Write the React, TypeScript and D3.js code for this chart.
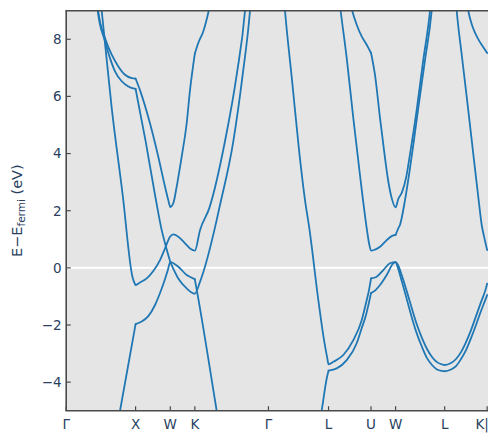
import React from "react";
import * as d3 from "d3";

type P = [number, number];

// high-symmetry path (distances in units of 2π/a)
const kLabels = ["Γ", "X", "W", "K", "Γ", "L", "U", "W", "L", "K|U"];
const kTicks = [0, 1, 1.5, 1.8536, 2.9142, 3.7802, 4.3926, 4.7462, 5.4533, 6.0657];
const kEnd = 6.4193;
const eTicks = [-4, -2, 0, 2, 4, 6, 8];
const eDomain: P = [-5, 9];

// bands: [k, E - E_fermi]
const bandA: P[] = [
  [0.552, -8.13], [0.775, -5.01], [1.0, -1.97], [1.088, -1.88], [1.183, -1.69], [1.28, -1.3],
  [1.352, -0.88], [1.424, -0.39], [1.462, -0.1], [1.5, 0.2], [1.615, 0.04], [1.736, -0.25],
  [1.831, -0.37], [1.8536, -0.4], [1.903, -1.07], [2.169, -5.01], [2.378, -8.13], [3.46, -8.13],
  [3.682, -4.98], [3.758, -3.82], [3.7802, -3.6], [3.898, -3.52], [4.042, -3.23], [4.186, -2.64],
  [4.254, -2.14], [4.32, -1.65], [4.363, -1.21], [4.3926, -0.88], [4.425, -0.84], [4.522, -0.6],
  [4.618, -0.25], [4.709, 0.15], [4.7462, 0.2], [4.781, -0.01], [4.839, -0.5], [4.911, -1.13],
  [4.983, -1.76], [5.055, -2.32], [5.127, -2.77], [5.199, -3.16], [5.271, -3.4], [5.343, -3.56],
  [5.415, -3.61], [5.4533, -3.62], [5.545, -3.56], [5.617, -3.44], [5.689, -3.19], [5.761, -2.88],
  [5.833, -2.46], [5.905, -2.0], [5.977, -1.51], [6.049, -1.06], [6.0657, -0.95],
];
const bandB: P[] = [
  [0.465, 10.07], [0.512, 8.99], [0.656, 5.59], [0.814, 2.55], [0.955, -0.32], [0.984, -0.53],
  [1.0, -0.6], [1.063, -0.51], [1.16, -0.37], [1.255, -0.11], [1.352, 0.27], [1.424, 0.68],
  [1.496, 1.09], [1.543, 1.17], [1.615, 1.09], [1.712, 0.86], [1.784, 0.68], [1.8536, 0.6],
  [1.928, 1.32], [2.062, 2.09], [2.288, 4.43], [2.457, 6.76], [2.576, 8.99], [2.605, 9.9],
];
const bandC: P[] = [
  [0.437, 9.55], [0.461, 8.99], [0.559, 8.04], [0.656, 7.46], [0.751, 7.05], [0.847, 6.76],
  [0.944, 6.64], [1.0, 6.62], [1.063, 6.22], [1.207, 5.06], [1.327, 3.89], [1.424, 2.84],
  [1.471, 2.37], [1.5, 2.13], [1.543, 2.26], [1.592, 2.84], [1.664, 3.89], [1.736, 5.06],
  [1.784, 6.22], [1.8536, 7.5], [1.903, 7.87], [1.976, 8.28], [2.053, 8.99], [2.072, 9.2],
];
const bandD: P[] = [
  [0.437, 9.55], [0.454, 9.0], [0.559, 7.93], [0.631, 7.34], [0.703, 6.88], [0.8, 6.53],
  [0.895, 6.35], [1.0, 6.26], [1.143, 4.45], [1.28, 2.55], [1.376, 1.32], [1.424, 0.86],
  [1.5, 0.2], [1.615, -0.37], [1.736, -0.72], [1.831, -0.89], [1.8536, -0.9], [1.928, -0.49],
  [2.168, 1.67], [2.206, 2.09], [2.408, 4.43], [2.543, 6.76], [2.648, 8.99], [2.677, 9.9],
];
const bandE: P[] = [
  [3.117, 10.07], [3.153, 8.99], [3.254, 6.57], [3.355, 4.12], [3.441, 2.37], [3.503, 1.39],
  [3.633, -1.13], [3.715, -2.53], [3.762, -3.16], [3.7802, -3.38], [3.849, -3.29], [3.993, -3.05],
  [4.137, -2.53], [4.258, -1.83], [4.32, -1.23], [4.363, -0.78], [4.3926, -0.37], [4.474, -0.31],
  [4.569, -0.08], [4.666, 0.16], [4.7462, 0.2], [4.781, 0.1], [4.839, -0.29], [4.911, -0.85],
  [4.983, -1.44], [5.055, -2.0], [5.127, -2.46], [5.199, -2.84], [5.271, -3.12], [5.343, -3.3],
  [5.415, -3.38], [5.4533, -3.4], [5.545, -3.33], [5.617, -3.19], [5.689, -2.95], [5.761, -2.6],
  [5.833, -2.18], [5.905, -1.69], [5.977, -1.2], [6.049, -0.71], [6.0657, -0.55],
];
const bandF: P[] = [
  [3.911, 9.9], [3.955, 8.99], [4.042, 7.34], [4.137, 5.24], [4.233, 3.25], [4.33, 1.39],
  [4.363, 0.87], [4.3926, 0.6], [4.449, 0.64], [4.522, 0.74], [4.618, 0.97], [4.69, 1.11],
  [4.7462, 1.15], [4.781, 1.36], [4.81, 1.51], [4.882, 2.37], [4.954, 3.49], [5.011, 4.47],
  [5.073, 5.59], [5.17, 7.27], [5.266, 8.99], [5.292, 9.72],
];
const bandI: P[] = [
  [4.068, 9.55], [4.122, 8.99], [4.186, 8.51], [4.258, 8.1], [4.33, 7.81], [4.3926, 7.52],
  [4.449, 6.76], [4.522, 5.24], [4.594, 3.84], [4.641, 3.03], [4.69, 2.44], [4.7462, 2.12],
  [4.785, 2.41], [4.839, 2.65], [4.896, 3.14], [4.954, 3.98], [5.05, 5.52], [5.141, 7.2],
  [5.242, 8.99], [5.271, 9.72],
];
const bandJ: P[] = [
  [5.602, 9.72], [5.627, 8.99], [5.703, 7.38], [5.79, 5.59], [5.876, 3.77], [5.948, 2.27],
  [5.987, 1.5], [6.02, 1.11], [6.0657, 0.62],
];
const bandK: P[] = [
  [5.768, 9.37], [5.794, 8.99], [5.847, 8.5], [5.905, 8.15], [5.962, 7.9], [6.02, 7.69],
  [6.0657, 7.52],
];

const bands = [bandA, bandB, bandC, bandD, bandE, bandF, bandI, bandJ, bandK];

// split a band where it has a kink at a high-symmetry point (monotone on both sides)
function splitAtKinks(pts: P[]): P[][] {
  const segs: P[][] = [];
  let cur: P[] = [pts[0]];
  for (let i = 1; i < pts.length; i++) {
    cur.push(pts[i]);
    if (i < pts.length - 1) {
      const isHS = kTicks.some((t) => Math.abs(t - pts[i][0]) < 1e-6);
      if (isHS) {
        const s1 = pts[i][1] - pts[i - 1][1];
        const s2 = pts[i + 1][1] - pts[i][1];
        if (s1 * s2 > 0) {
          segs.push(cur);
          cur = [pts[i]];
        }
      }
    }
  }
  segs.push(cur);
  return segs;
}

export default function App() {
  const W = 488;
  const H = 446;
  const left = 66.2;
  const top = 10.7;
  const bottom = 410.7;
  const pxPerK = 69.4;
  const x = d3.scaleLinear().domain([0, kEnd]).range([left, left + kEnd * pxPerK]);
  const y = d3.scaleLinear().domain(eDomain).range([bottom, top]);
  const right = x(kEnd);
  const line = d3
    .line<P>()
    .x((d) => x(d[0]))
    .y((d) => y(d[1]))
    .curve(d3.curveMonotoneX);
  const axisColor = "#4a4a4a";
  const textColor = "#2a3f5f";
  const tickLen = 4.5;

  return (
    <svg
      width={W}
      height={H}
      style={{ position: "absolute", left: 0, top: 0, display: "block" }}
      fontFamily="DejaVu Sans"
    >
      <defs>
        <clipPath id="plotClip">
          <rect x={left} y={top} width={right - left} height={bottom - top} />
        </clipPath>
      </defs>
      <rect x={left} y={top} width={right - left} height={bottom - top} fill="#e5e5e5" />
      <line x1={left} x2={right} y1={y(0)} y2={y(0)} stroke="#ffffff" strokeWidth={2} />
      <g clipPath="url(#plotClip)">
        {bands.flatMap((b, i) =>
          splitAtKinks(b).map((s, j) => (
            <path
              key={`${i}-${j}`}
              d={line(s) || ""}
              fill="none"
              stroke="#1f77b4"
              strokeWidth={1.8}
              strokeLinejoin="round"
              strokeLinecap="round"
            />
          ))
        )}
      </g>
      {/* spines */}
      <line x1={left} x2={left} y1={top} y2={bottom} stroke={axisColor} strokeWidth={1.6} />
      <line x1={left - 0.8} x2={right} y1={top} y2={top} stroke={axisColor} strokeWidth={1.6} />
      <line x1={left - 0.8} x2={right} y1={bottom} y2={bottom} stroke={axisColor} strokeWidth={1.6} />
      {/* y ticks */}
      {eTicks.map((t) => (
        <g key={`y${t}`}>
          <line x1={left} x2={left + tickLen} y1={y(t)} y2={y(t)} stroke={axisColor} strokeWidth={1.2} />
          <text x={left - 4.5} y={y(t)} dy="0.36em" textAnchor="end" fontSize={13.5} fill={textColor}>
            {t < 0 ? `\u2212${Math.abs(t)}` : `${t}`}
          </text>
        </g>
      ))}
      {/* x ticks */}
      {kTicks.map((t, i) => (
        <g key={`x${i}`}>
          <line x1={x(t)} x2={x(t)} y1={bottom} y2={bottom - tickLen} stroke={axisColor} strokeWidth={1.2} />
          <text x={x(t)} y={429.3} textAnchor="middle" fontSize={13.5} fill={textColor}>
            {kLabels[i]}
          </text>
        </g>
      ))}
      {/* y label */}
      <text
        transform={`translate(21.5, ${(top + bottom) / 2}) rotate(-90)`}
        textAnchor="middle"
        fontSize={14.5}
        fill={textColor}
      >
        <tspan>E−E</tspan>
        <tspan fontSize={10.5} dy={3}>fermi</tspan>
        <tspan dy={-3}> (eV)</tspan>
      </text>
    </svg>
  );
}
